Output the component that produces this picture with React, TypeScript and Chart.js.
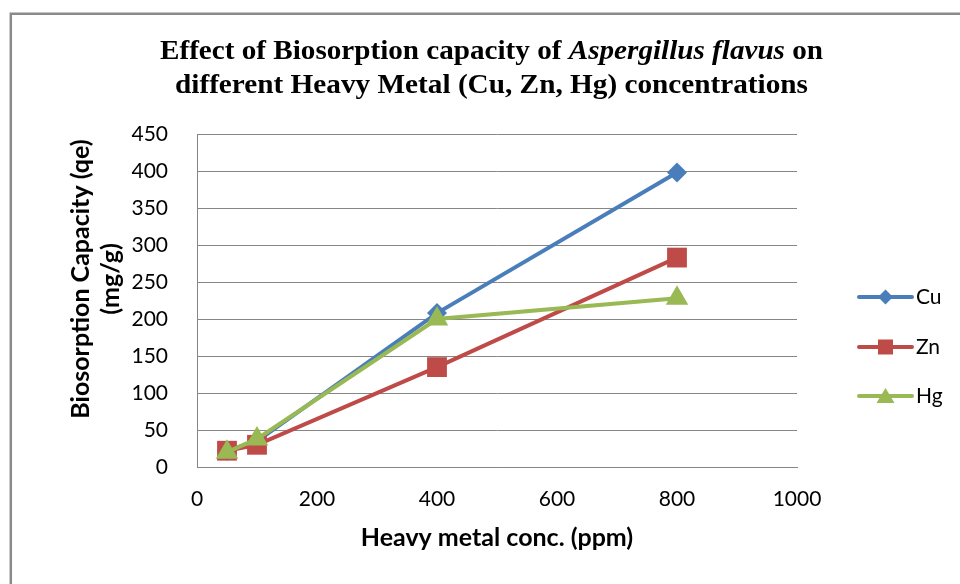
import React, { useEffect, useRef } from 'react';
import { Chart, registerables } from 'chart.js';

Chart.register(...registerables);

// ---- data ----
const concentrations = [50, 100, 400, 800];
const cuValues = [22, 35, 208, 398];
const znValues = [22, 30, 135, 283];
const hgValues = [20, 38, 200, 228];
const seriesNames = ['Cu', 'Zn', 'Hg'];
const seriesColors = ['#4A7EBB', '#BE4B48', '#98B954'];
const xMin = 0, xMax = 1000, xStep = 200;
const yMin = 0, yMax = 450, yStep = 50;
const titleLine1 = [
  { text: 'Effect of Biosorption capacity of ', italic: false },
  { text: 'Aspergillus flavus', italic: true },
  { text: ' on', italic: false },
];
const titleLine2 = 'different Heavy Metal (Cu, Zn, Hg) concentrations';
const xTitle = 'Heavy metal conc. (ppm)';
const yTitleLines = ['Biosorption Capacity (qe)', '(mg/g)'];

const GRID = '#868686';
const SANS = 'Lato, "Open Sans", sans-serif';
const SERIF = '"Liberation Serif", "DejaVu Serif", serif';

function drawMarker(ctx: CanvasRenderingContext2D, style: string, x: number, y: number, color: string) {
  ctx.save();
  ctx.fillStyle = color;
  ctx.beginPath();
  if (style === 'diamond') {
    const r = 7.5;
    ctx.moveTo(x, y - r); ctx.lineTo(x + r, y); ctx.lineTo(x, y + r); ctx.lineTo(x - r, y);
  } else if (style === 'square') {
    ctx.rect(x - 7.5, y - 7.5, 15, 15);
  } else {
    ctx.moveTo(x, y - 8); ctx.lineTo(x + 9, y + 7); ctx.lineTo(x - 9, y + 7);
  }
  ctx.closePath();
  ctx.fill();
  ctx.restore();
}

const decorPlugin = {
  id: 'decor',
  beforeDraw(chart: any) {
    const ctx: CanvasRenderingContext2D = chart.ctx;
    ctx.save();
    ctx.fillStyle = '#ffffff';
    ctx.fillRect(0, 0, chart.width, chart.height);
    ctx.strokeStyle = '#8a8a8a';
    ctx.lineWidth = 2.5;
    ctx.beginPath();
    ctx.moveTo(chart.width + 5, 13.8);
    ctx.lineTo(10.8, 13.8);
    ctx.lineTo(10.8, chart.height + 5);
    ctx.stroke();
    ctx.restore();
  },
  afterDraw(chart: any) {
    const ctx: CanvasRenderingContext2D = chart.ctx;
    const area = chart.chartArea;
    ctx.save();
    // ---- title ----
    const tSize = 28;
    const cx = 491.5;
    ctx.fillStyle = '#000';
    ctx.textBaseline = 'alphabetic';
    ctx.textAlign = 'left';
    const fontFor = (italic: boolean) => `${italic ? 'italic ' : ''}bold ${tSize}px ${SERIF}`;
    let w1 = 0;
    titleLine1.forEach((s) => { ctx.font = fontFor(s.italic); w1 += ctx.measureText(s.text).width; });
    const target1 = 663;
    ctx.save();
    ctx.translate(cx - target1 / 2, 59);
    ctx.scale(target1 / w1, 1);
    let px = 0;
    titleLine1.forEach((s) => { ctx.font = fontFor(s.italic); ctx.fillText(s.text, px, 0); px += ctx.measureText(s.text).width; });
    ctx.restore();
    ctx.font = fontFor(false);
    const w2 = ctx.measureText(titleLine2).width;
    const target2 = 633;
    ctx.save();
    ctx.translate(cx - target2 / 2, 93);
    ctx.scale(target2 / w2, 1);
    ctx.fillText(titleLine2, 0, 0);
    ctx.restore();

    // ---- axis titles ----
    ctx.fillStyle = '#000';
    ctx.font = `bold 25px ${SANS}`;
    ctx.textAlign = 'center';
    ctx.textBaseline = 'middle';
    ctx.fillText(xTitle, (area.left + area.right) / 2, 538);
    const yCenters = [81, 111];
    yTitleLines.forEach((line, i) => {
      ctx.save();
      ctx.translate(yCenters[i], 279);
      ctx.rotate(-Math.PI / 2);
      ctx.fillText(line, 0, 0);
      ctx.restore();
    });

    // ---- legend ----
    const legendYs = [297, 347, 396];
    const styles = ['diamond', 'square', 'triangle'];
    seriesNames.forEach((name, i) => {
      const y = legendYs[i];
      ctx.strokeStyle = seriesColors[i];
      ctx.lineWidth = 4;
      ctx.lineCap = 'round';
      ctx.beginPath();
      ctx.moveTo(859, y);
      ctx.lineTo(912, y);
      ctx.stroke();
      drawMarker(ctx, styles[i], 885.5, y, seriesColors[i]);
      ctx.fillStyle = '#000';
      ctx.font = `21px ${SANS}`;
      ctx.textAlign = 'left';
      ctx.textBaseline = 'middle';
      ctx.fillText(name, 916, y);
    });
    ctx.restore();
  },
};

function toPoints(values: number[]) {
  return concentrations.map((c, i) => ({ x: c, y: values[i] }));
}

export default function App() {
  const canvasRef = useRef<HTMLCanvasElement | null>(null);

  useEffect(() => {
    document.body.style.margin = '0';
    const canvas = canvasRef.current;
    if (!canvas) return;
    const chart = new Chart(canvas, {
      type: 'line',
      data: {
        datasets: [
          {
            label: seriesNames[0],
            data: toPoints(cuValues),
            borderColor: seriesColors[0],
            backgroundColor: seriesColors[0],
            borderWidth: 4,
            pointStyle: 'rectRot',
            pointRadius: 10,
            pointBorderWidth: 0,
            order: 3,
          },
          {
            label: seriesNames[1],
            data: toPoints(znValues),
            borderColor: seriesColors[1],
            backgroundColor: seriesColors[1],
            borderWidth: 4,
            pointStyle: 'rect',
            pointRadius: 14,
            pointBorderWidth: 0,
            order: 2,
          },
          {
            label: seriesNames[2],
            data: toPoints(hgValues),
            borderColor: seriesColors[2],
            backgroundColor: seriesColors[2],
            borderWidth: 4,
            pointStyle: 'triangle',
            pointRadius: 13,
            pointBorderWidth: 0,
            order: 1,
          },
        ],
      },
      options: {
        animation: false,
        responsive: false,
        devicePixelRatio: 1,
        layout: { padding: { left: 0, top: 134, right: 163, bottom: 0 } },
        plugins: {
          legend: { display: false },
          title: { display: false },
          tooltip: { enabled: false },
        },
        scales: {
          x: {
            type: 'linear',
            min: xMin,
            max: xMax,
            grid: { display: false, drawTicks: false },
            border: { display: true, color: GRID, width: 1 },
            ticks: {
              stepSize: xStep,
              padding: 20,
              color: '#000',
              font: { family: SANS, size: 21 },
              maxRotation: 0,
              callback: (v: any) => String(v),
            },
            afterFit: (scale: any) => { scale.height = 117; },
          },
          y: {
            type: 'linear',
            min: yMin,
            max: yMax,
            grid: { color: GRID, lineWidth: 1, drawTicks: false },
            border: { display: true, color: GRID, width: 1 },
            ticks: {
              stepSize: yStep,
              padding: 29,
              color: '#000',
              font: { family: SANS, size: 21 },
              callback: (v: any) => String(v),
            },
            afterFit: (scale: any) => { scale.width = 197; },
          },
        },
      },
      plugins: [decorPlugin],
    } as any);
    return () => chart.destroy();
  }, []);

  return (
    <div style={{ position: 'fixed', left: 0, top: 0, width: 960, height: 584 }}>
      <canvas ref={canvasRef} width={960} height={584} style={{ width: 960, height: 584 }} />
    </div>
  );
}
